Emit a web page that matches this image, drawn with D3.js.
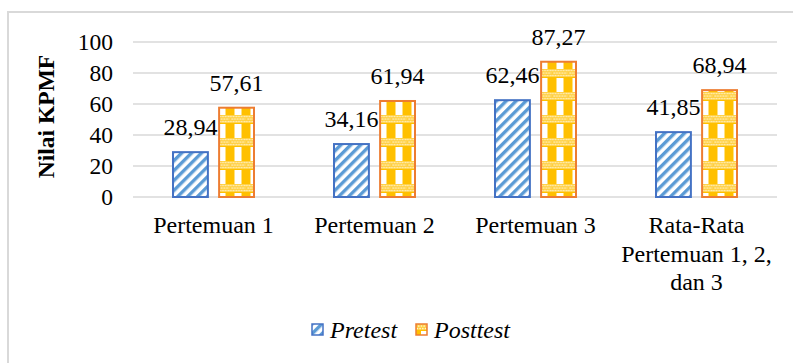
<!DOCTYPE html>
<html>
<head>
<meta charset="utf-8">
<script src="https://cdn.jsdelivr.net/npm/d3@7"></script>
<style>
  html, body { margin: 0; padding: 0; background: #fff; }
  svg { display: block; }
</style>
</head>
<body>
<svg id="chart" width="793" height="363"></svg>
<script>
// Categories and series values
const categories = ["Pertemuan 1", "Pertemuan 2", "Pertemuan 3", "Rata-Rata Pertemuan 1, 2, dan 3"];
const categoryLines = [["Pertemuan 1"], ["Pertemuan 2"], ["Pertemuan 3"], ["Rata-Rata", "Pertemuan 1, 2,", "dan 3"]];
const seriesNames = ["Pretest", "Posttest"];
const pretest = [28.94, 34.16, 62.46, 41.85];
const posttest = [57.61, 61.94, 87.27, 68.94];
const yTicks = [0, 20, 40, 60, 80, 100];
const yTitle = "Nilai KPMF";

const FONT = "'Liberation Serif', 'Times New Roman', Times, serif";
const svg = d3.select("#chart").style("font-family", FONT);
const W = 793, H = 363;
const plot = { left: 133, right: 777, top: 42, bottom: 197 };

// Fill patterns
const defs = svg.append("defs");

// diagonal blue stripes
const pPre = defs.append("pattern")
  .attr("id", "pat-pre").attr("patternUnits", "userSpaceOnUse")
  .attr("width", 7).attr("height", 7)
  .attr("patternTransform", "rotate(45)");
pPre.append("rect").attr("width", 7).attr("height", 7).attr("fill", "#ffffff");
pPre.append("rect").attr("x", 0).attr("width", 3.4).attr("height", 7).attr("fill", "#5b9bd5");

// gold plaid
const pPost = defs.append("pattern")
  .attr("id", "pat-post").attr("patternUnits", "userSpaceOnUse")
  .attr("width", 16).attr("height", 23);
pPost.append("rect").attr("width", 16).attr("height", 23).attr("fill", "#ffc000");
pPost.append("rect").attr("x", 5).attr("y", 9).attr("width", 7).attr("height", 14).attr("fill", "#ffffff");
pPost.append("rect").attr("x", 0).attr("y", 0).attr("width", 16).attr("height", 8).attr("fill", "#ffcf40");
for (let r = 0; r < 3; r++) {
  for (let c = 0; c < 6; c++) {
    pPost.append("circle")
      .attr("cx", 1.4 + c * 2.7 + (r % 2 ? 1.35 : 0))
      .attr("cy", 1.5 + r * 2.5)
      .attr("r", 0.85).attr("fill", "#fff3cc");
  }
}

// Chart area border
svg.append("rect")
  .attr("x", 8).attr("y", 12).attr("width", W + 20).attr("height", H + 20)
  .attr("fill", "none").attr("stroke", "#d9d9d9").attr("stroke-width", 2);

// Scales
const x0 = d3.scaleBand().domain(categories).range([plot.left, plot.right]).padding(0);
const groupW = 83;
const x1 = d3.scaleBand().domain(seriesNames).range([-groupW / 2, groupW / 2]).paddingInner(0.2).paddingOuter(0);
const y = d3.scaleLinear().domain([0, 100]).range([plot.bottom, plot.top]);

// Gridlines
svg.append("g").selectAll("line").data(yTicks).join("line")
  .attr("x1", plot.left).attr("x2", plot.right)
  .attr("y1", d => y(d)).attr("y2", d => y(d))
  .attr("stroke", "#d9d9d9").attr("stroke-width", 1.5);

// Y axis labels
const yAxis = d3.axisLeft(y).tickValues(yTicks).tickSize(0).tickPadding(0).tickFormat(d3.format("d"));
const gy = svg.append("g").attr("transform", `translate(${113},0)`).call(yAxis);
gy.select(".domain").remove();
gy.attr("font-family", null).attr("font-size", null);
gy.selectAll("text")
  .style("font-family", FONT).style("font-size", "23.5px").attr("fill", "#000");

// Y title
svg.append("text")
  .attr("transform", `translate(${54},${plot.top + (plot.bottom - plot.top) / 2 - 3}) rotate(-90)`)
  .attr("text-anchor", "middle")
  .style("font-family", FONT).style("font-size", "23.5px").style("font-weight", "bold")
  .attr("fill", "#000")
  .text(yTitle);

// Bars
const data = categories.map((c, i) => ({ cat: c, vals: [
  { s: "Pretest", v: pretest[i] }, { s: "Posttest", v: posttest[i] }] }));

const styles = {
  Pretest: { fill: "url(#pat-pre)", stroke: "#4472c4" },
  Posttest: { fill: "url(#pat-post)", stroke: "#ed7d31" }
};

const groups = svg.append("g").selectAll("g").data(data).join("g")
  .attr("transform", d => `translate(${x0(d.cat) + x0.bandwidth() / 2},0)`);

groups.selectAll("rect").data(d => d.vals).join("rect")
  .attr("x", d => x1(d.s) + 1)
  .attr("width", x1.bandwidth() - 2)
  .attr("y", d => y(d.v))
  .attr("height", d => y(0) - y(d.v))
  .attr("fill", d => styles[d.s].fill)
  .attr("stroke", d => styles[d.s].stroke)
  .attr("stroke-width", 2);

const fmt = v => d3.format(".2f")(v).replace(".", ",");
groups.selectAll("text.val").data(d => d.vals).join("text")
  .attr("class", "val")
  .attr("x", d => x1(d.s) + x1.bandwidth() / 2)
  .attr("y", d => y(d.v) - 17)
  .attr("text-anchor", "middle")
  .style("font-family", FONT).style("font-size", "24px")
  .attr("fill", "#000")
  .text(d => fmt(d.v));

// Category labels
const catG = svg.append("g");
categories.forEach((c, i) => {
  const cx = x0(c) + x0.bandwidth() / 2;
  const t = catG.append("text")
    .attr("x", cx).attr("y", 233)
    .attr("text-anchor", "middle")
    .style("font-family", FONT).style("font-size", "24px")
    .attr("fill", "#000");
  categoryLines[i].forEach((line, j) => {
    t.append("tspan").attr("x", cx).attr("y", 233 + j * 28.5).text(line);
  });
});

// Legend
const legend = svg.append("g");
const legendItems = [
  { s: "Pretest", x: 312 },
  { s: "Posttest", x: 416 }
];
legendItems.forEach(it => {
  legend.append("rect")
    .attr("x", it.x).attr("y", 324).attr("width", 11).attr("height", 11)
    .attr("fill", styles[it.s].fill).attr("stroke", styles[it.s].stroke).attr("stroke-width", 1.5);
  legend.append("text")
    .attr("x", it.x + 18).attr("y", 338)
    .style("font-family", FONT).style("font-size", "24px").style("font-style", "italic")
    .attr("fill", "#000")
    .text(it.s);
});
</script>
</body>
</html>
